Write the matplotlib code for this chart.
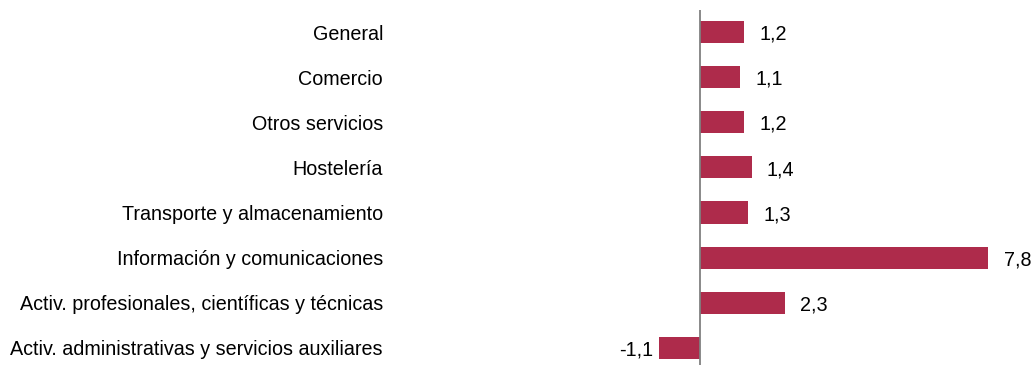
import matplotlib
matplotlib.use("Agg")
import matplotlib.pyplot as plt

plt.rcParams['font.family'] = ['Liberation Sans', 'DejaVu Sans']

sectores = [
    "General",
    "Comercio",
    "Otros servicios",
    "Hostelería",
    "Transporte y almacenamiento",
    "Información y comunicaciones",
    "Activ. profesionales, científicas y técnicas",
    "Activ. administrativas y servicios auxiliares",
]
valores = [1.2, 1.1, 1.2, 1.4, 1.3, 7.8, 2.3, -1.1]

W, H = 1034, 365
fig = plt.figure(figsize=(W / 100, H / 100), dpi=100)
# ejes colocados en pixeles: cero en x~700, 37 px por unidad
left_px, right_px = 640, 1000
ax = fig.add_axes([left_px / W, 0, (right_px - left_px) / W, (H - 10) / H])
ax.set_xlim(-(699.7 - left_px) / 37, (right_px - 699.7) / 37)
ax.set_ylim(7.38, -0.49)

y = range(len(sectores))
ax.barh(y, valores, height=0.49, color="#AE2B4B")
ax.axvline(0, color="#808080", lw=1.3)

fs = 14.2
for i, v in enumerate(valores):
    txt = f"{v:.1f}".replace(".", ",")
    if v >= 0:
        ax.annotate(txt, (v, i), xytext=(11, -1.5), textcoords="offset points",
                    va="center", ha="left", fontsize=fs)
    else:
        ax.annotate(txt, (v, i), xytext=(-4, -1.5), textcoords="offset points",
                    va="center", ha="right", fontsize=fs)

ax.set_yticks(list(y))
ax.set_yticklabels(sectores, fontsize=fs)
ax.tick_params(axis="y", length=0, pad=(left_px - 383) * 0.72)
ax.set_xticks([])
for s in ax.spines.values():
    s.set_visible(False)

fig.savefig("out.png", dpi=100)
